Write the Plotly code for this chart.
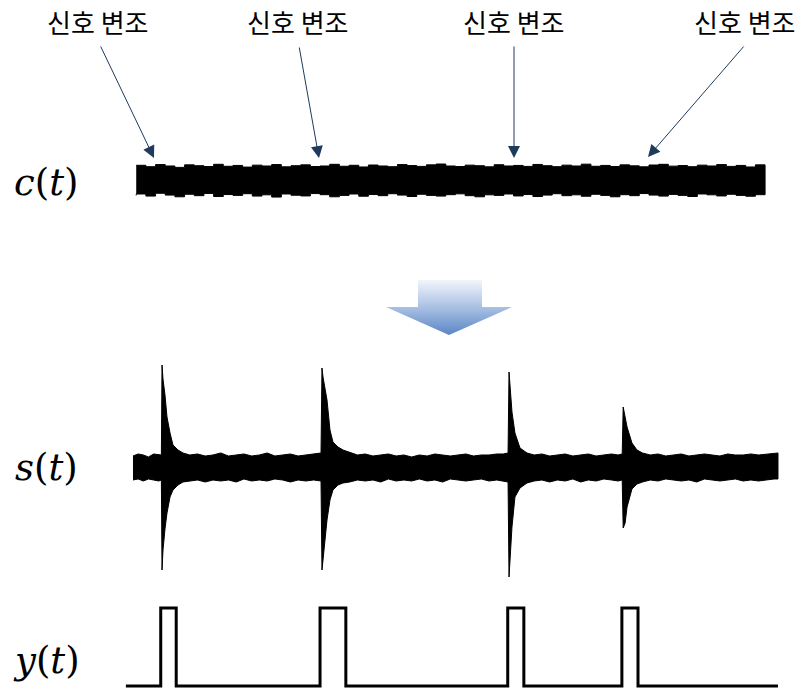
import plotly.graph_objects as go

# ---------------- data ----------------
# c(t): envelope of the carrier band (normalised amplitude)
c_t = [5, 20, 35, 50, 65, 80, 95, 110, 125, 140,
       155, 170, 185, 200, 215, 230, 245, 260, 275, 290,
       305, 320, 335, 350, 365, 380, 395, 410, 425, 440,
       455, 470, 485, 500, 515, 530, 545, 560, 575, 590,
       605, 620, 635, 650, 665, 680, 695, 710, 725, 740,
       755, 770, 785, 800, 815, 830, 845, 860, 875, 890,
       905, 920, 935, 950, 965, 980]
c_upper = [1.05, 0.95, 1.10, 1.00, 0.90, 1.08, 1.02, 0.96, 1.12, 0.98,
           1.04, 0.92, 1.06, 1.00, 1.10, 0.94, 1.02, 1.08, 0.96, 1.00,
           1.12, 0.98, 1.05, 0.93, 1.07, 1.00, 0.95, 1.10, 1.03, 0.97,
           1.08, 1.14, 1.00, 0.96, 1.06, 1.02, 0.94, 1.09, 1.00, 1.04,
           0.97, 1.11, 1.02, 0.95, 1.06, 1.00, 1.13, 0.98, 1.04, 0.96,
           1.08, 1.01, 0.94, 1.07, 1.12, 0.99, 1.03, 0.95, 1.06, 1.00,
           1.10, 0.97, 1.04, 0.93, 1.08, 1.02]
c_lower = [-1.10, -1.00, -1.15, -0.95, -1.08, -1.20, -1.02, -1.12, -0.96, -1.18,
           -1.04, -1.10, -0.98, -1.15, -1.06, -1.22, -1.00, -1.09, -1.14, -0.97,
           -1.05, -1.20, -1.10, -1.00, -1.16, -1.04, -1.12, -0.98, -1.08, -1.18,
           -1.02, -1.10, -1.15, -1.05, -0.99, -1.12, -1.20, -1.06, -1.10, -1.00,
           -1.14, -1.04, -1.18, -1.08, -0.98, -1.12, -1.06, -1.16, -1.02, -1.10,
           -1.20, -1.05, -1.12, -0.97, -1.08, -1.15, -1.03, -1.10, -1.18, -1.00,
           -1.06, -1.14, -1.02, -1.10, -1.16, -1.05]

# s(t): envelope of the separated signal with four transient spikes
s_t = [0, 8, 16, 24, 32, 40, 44, 45, 46.5, 49.6,
       52.7, 57.4, 62, 69.8, 77.5, 88, 100, 112, 124, 136,
       148, 160, 172, 184, 196, 208, 220, 232, 244, 256,
       268, 280, 291.5, 293, 294.6, 300.8, 305.4, 310, 317.8, 325.6,
       336, 348, 360, 372, 384, 396, 408, 420, 432, 444,
       456, 468, 480, 492, 504, 516, 528, 540, 552, 564,
       574, 581.5, 583, 587.6, 592.2, 600, 610.9, 622, 634, 646,
       658, 670, 682, 694, 706, 718, 730, 742, 752, 758.5,
       760, 763, 766, 773.6, 781.4, 790, 802, 814, 826, 838,
       850, 862, 874, 886, 898, 910, 922, 934, 946, 958,
       970, 982, 994, 1000]
s_upper = [0.11, 0.13, 0.12, 0.10, 0.13, 0.12, 0.12, 1.02, 0.88, 0.72,
           0.50, 0.34, 0.22, 0.17, 0.14, 0.12, 0.13, 0.11, 0.12, 0.14,
           0.11, 0.12, 0.13, 0.11, 0.12, 0.14, 0.11, 0.12, 0.13, 0.11,
           0.12, 0.13, 0.14, 0.99, 0.90, 0.67, 0.37, 0.25, 0.20, 0.17,
           0.15, 0.12, 0.13, 0.11, 0.12, 0.13, 0.11, 0.12, 0.10, 0.12,
           0.11, 0.13, 0.12, 0.11, 0.12, 0.13, 0.11, 0.12, 0.12, 0.13,
           0.13, 0.14, 0.95, 0.55, 0.34, 0.19, 0.14, 0.12, 0.13, 0.11,
           0.12, 0.13, 0.11, 0.12, 0.13, 0.11, 0.12, 0.13, 0.12, 0.13,
           0.60, 0.48, 0.40, 0.24, 0.17, 0.14, 0.12, 0.13, 0.11, 0.12,
           0.13, 0.11, 0.12, 0.13, 0.12, 0.11, 0.13, 0.12, 0.12, 0.13,
           0.12, 0.13, 0.14, 0.14]
s_lower = [-0.13, -0.12, -0.14, -0.12, -0.13, -0.14, -0.13, -1.03, -0.83, -0.62,
           -0.46, -0.30, -0.23, -0.18, -0.15, -0.14, -0.13, -0.15, -0.13, -0.14,
           -0.13, -0.15, -0.12, -0.14, -0.13, -0.14, -0.12, -0.13, -0.15, -0.13,
           -0.14, -0.13, -0.14, -1.03, -0.93, -0.53, -0.33, -0.23, -0.18, -0.16,
           -0.15, -0.13, -0.14, -0.13, -0.15, -0.12, -0.14, -0.13, -0.14, -0.12,
           -0.14, -0.13, -0.15, -0.12, -0.13, -0.14, -0.13, -0.12, -0.14, -0.13,
           -0.14, -0.15, -1.10, -0.60, -0.30, -0.21, -0.16, -0.14, -0.13, -0.15,
           -0.13, -0.14, -0.12, -0.15, -0.13, -0.14, -0.12, -0.13, -0.14, -0.13,
           -0.61, -0.56, -0.40, -0.22, -0.17, -0.15, -0.13, -0.14, -0.12, -0.13,
           -0.14, -0.13, -0.15, -0.12, -0.13, -0.14, -0.13, -0.12, -0.14, -0.13,
           -0.14, -0.13, -0.12, -0.12]

# y(t): binary detection output
y_t = [-11, 43, 67, 290, 330, 581, 606, 758, 783, 1000]
y_val = [0, 1, 0, 1, 0, 1, 0, 1, 0, 0]

row_labels = ["<i>c</i>(<i>t</i>)", "<i>s</i>(<i>t</i>)", "<i>y</i>(<i>t</i>)"]
marker_text = "신호 변조"

# ---------------- layout helpers ----------------
W, H = 801, 690
def px(x):
    return x / W
def py(y):
    return 1 - y / H

fig = go.Figure()

# decorative block arrow (pixel-space overlay), drawn first so it sits below
arrow_x = [418, 482, 482, 512, 449, 386, 418, 418]
arrow_y = [280, 280, 307, 307, 335, 307, 307, 280]
fig.add_trace(go.Scatter(
    x=arrow_x, y=arrow_y, fill="toself", mode="lines",
    line=dict(width=0, color="rgba(0,0,0,0)"),
    fillgradient=dict(type="vertical", start=280, stop=335,
                      colorscale=[[0, "#f2f5fb"], [0.5, "#a9c0e3"], [1, "#5a86c6"]]),
    xaxis="x2", yaxis="y4", hoverinfo="skip", showlegend=False))

# c(t) band
fig.add_trace(go.Scatter(
    x=c_t + c_t[::-1], y=c_upper + c_lower[::-1],
    fill="toself", fillcolor="black", mode="lines",
    line=dict(color="black", width=1, shape="hv"),
    xaxis="x", yaxis="y", hoverinfo="skip", showlegend=False))

# s(t) band
fig.add_trace(go.Scatter(
    x=s_t + s_t[::-1], y=s_upper + s_lower[::-1],
    fill="toself", fillcolor="black", mode="lines",
    line=dict(color="black", width=1),
    xaxis="x", yaxis="y2", hoverinfo="skip", showlegend=False))

# y(t) pulses
fig.add_trace(go.Scatter(
    x=y_t, y=y_val, mode="lines",
    line=dict(color="black", width=3, shape="hv"),
    xaxis="x", yaxis="y3", hoverinfo="skip", showlegend=False))

hidden = dict(visible=False, showgrid=False, zeroline=False, fixedrange=True)
fig.update_layout(
    width=W, height=H,
    margin=dict(l=0, r=0, t=0, b=0),
    paper_bgcolor="white", plot_bgcolor="rgba(0,0,0,0)",
    xaxis=dict(domain=[0, 1], range=[-206.2, 1035.7], anchor="y", **hidden),
    yaxis=dict(domain=[0.6377, 0.8406], range=[-5, 5], anchor="x", **hidden),
    yaxis2=dict(domain=[0.1058, 0.5406], range=[-1.5, 1.5], anchor="x", **hidden),
    yaxis3=dict(domain=[0, 0.1449], range=[-0.0513, 1.2308], anchor="x", **hidden),
    xaxis2=dict(domain=[0, 1], range=[0, W], anchor="y4", **hidden),
    yaxis4=dict(domain=[0, 1], range=[H, 0], anchor="x2", **hidden),
)

annotations = []
# row labels
for lab, yc in zip(row_labels, [182, 467, 660]):
    annotations.append(dict(
        text=lab, xref="paper", yref="paper", x=px(46), y=py(yc),
        xanchor="center", yanchor="middle", showarrow=False,
        font=dict(family="DejaVu Serif", size=37, color="black")))

# marker labels and arrows
label_x = [98, 298, 514, 745]
tails = [(100, 45), (299, 46), (514, 45), (745, 45)]
tips = [(154, 158), (319, 158), (514, 158), (648, 157)]
for lx in label_x:
    annotations.append(dict(
        text=marker_text, xref="paper", yref="paper", x=px(lx), y=py(22),
        xanchor="center", yanchor="middle", showarrow=False,
        font=dict(family="Noto Sans CJK KR", size=26, color="black")))
for (tx, ty), (hx, hy) in zip(tails, tips):
    annotations.append(dict(
        text="", xref="paper", yref="paper", x=px(hx), y=py(hy),
        ax=tx - hx, ay=ty - hy, showarrow=True,
        arrowhead=2, arrowsize=2.4, arrowwidth=1, arrowcolor="#1f3b5c",
        standoff=0, startstandoff=0))
fig.update_layout(annotations=annotations)

fig.write_html("out.html")
